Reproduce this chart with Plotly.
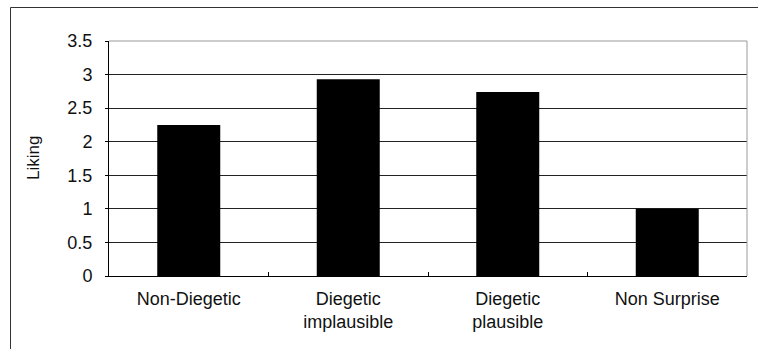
import plotly.graph_objects as go

categories = ["Non-Diegetic", "Diegetic<br>implausible", "Diegetic<br>plausible", "Non Surprise"]
liking = [2.25, 2.93, 2.74, 1.0]
y_ticks = [0, 0.5, 1, 1.5, 2, 2.5, 3, 3.5]
y_tick_labels = ["0", "0.5", "1", "1.5", "2", "2.5", "3", "3.5"]

W, H = 758, 349
L, R, T, B = 109, 11, 41, 73
pw, ph = W - L - R, H - T - B

def px_x(x):
    return (x - L) / pw

def px_y(y):
    return (H - B - y) / ph

font = dict(family="Liberation Sans, Arial, sans-serif", size=18, color="#111111")

fig = go.Figure(go.Bar(x=categories, y=liking, marker=dict(color="black", line=dict(width=0)),
                       hoverinfo="skip"))

fig.update_layout(
    width=W, height=H,
    margin=dict(l=L, r=R, t=T, b=B, autoexpand=False),
    paper_bgcolor="white", plot_bgcolor="white",
    bargap=0.605, showlegend=False, font=font,
)
fig.update_xaxes(
    showline=True, linecolor="black", linewidth=1,
    ticks="inside", tickson="boundaries", ticklen=4, tickcolor="black",
    showgrid=False, tickfont=font, ticklabelstandoff=6,
)
fig.update_yaxes(
    range=[0, 3.5], tickvals=y_ticks, ticktext=y_tick_labels,
    showline=True, linecolor="black", linewidth=1,
    ticks="outside", ticklen=3, tickcolor="black",
    showgrid=True, gridcolor="#222222", gridwidth=1, zeroline=False,
    tickfont=font, ticklabelstandoff=9,
)
# plot area top/right border (gray)
fig.add_shape(type="line", xref="paper", yref="paper", x0=0, x1=1, y0=1, y1=1,
              line=dict(color="#999999", width=1), layer="above")
fig.add_shape(type="line", xref="paper", yref="paper", x0=1, x1=1, y0=0, y1=1,
              line=dict(color="#999999", width=1), layer="above")
# outer chart frame (left and top)
fig.add_shape(type="line", xref="paper", yref="paper", x0=px_x(10.5), x1=px_x(760),
              y0=px_y(7.5), y1=px_y(7.5), line=dict(color="#333333", width=1))
fig.add_shape(type="line", xref="paper", yref="paper", x0=px_x(10.5), x1=px_x(10.5),
              y0=px_y(7.5), y1=px_y(360), line=dict(color="#333333", width=1))
fig.add_annotation(text="Liking", xref="paper", yref="paper", x=px_x(33), y=px_y(158),
                   textangle=-90, showarrow=False, font=dict(family=font["family"], size=17, color="#111111"),
                   xanchor="center", yanchor="middle")

fig.write_html("out.html", config={"displayModeBar": False, "staticPlot": True},
               post_script="document.body.style.margin='0';document.body.style.overflow='hidden';")
